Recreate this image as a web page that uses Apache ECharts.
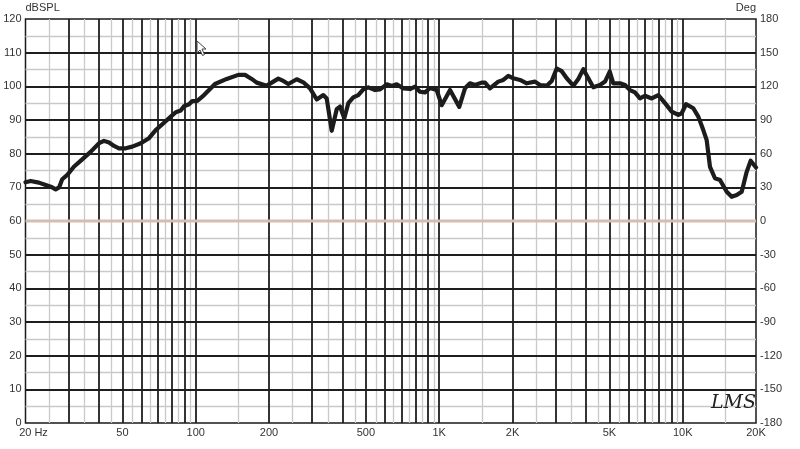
<!DOCTYPE html>
<html><head><meta charset="utf-8">
<script src="https://cdn.jsdelivr.net/npm/echarts@6/dist/echarts.min.js"></script>
<style>html,body{margin:0;padding:0;background:#fff}#c{width:800px;height:449px}</style>
</head><body><div id="c"></div>
<script>
// Frequency response (Hz) and SPL (dB)
const freqs = [20,21.0,22.7,24.2,25.4,26.6,27.5,28.3,29.7,31.6,34.2,37.1,40.1,42.0,44.1,46.2,48.4,51.6,54.9,59.5,64.3,68.5,74.1,79.0,82.8,86.8,89.5,93.9,96.8,101.5,108.2,
  120,134.1,149.6,159.4,169.8,178,195.7,205.2,218.4,229,240.1,260,276.7,294.8,314.1,334.2,345.2,361.9,379.4,391.4,407.6,423.4,443.8,465.4,487.8,511.5,545.1,571.5,608.8,638.5,669.1,712.2,758.9,795.7,834,874.6,916.8,976.8,
  1024,1108,1209,1276,1338,1403,1494,1542,1616,1748,1834,1922,2015,2148,2288,2475,2594,2765,2898,3038,3186,3340,3556,3727,3908,4096,4294,4574,4798,5016,5188,5528,5794,6074,6368,6676,6998,7460,7940,8460,9014,9594,9908,
  10320,11054,11588,12150,12546,12944,13570,14228,15162,15896,16664,17472,18316,19020,20000];
const spl = [71.5,71.9,71.4,70.7,70.2,69.4,70.0,72.4,73.7,76.1,78.3,80.6,83.1,83.8,83.3,82.3,81.6,81.6,82.1,83.1,84.6,87.0,89.2,91.0,92.3,92.8,94.1,94.7,95.6,95.7,97.4,
  100.7,102.2,103.4,103.4,102.2,101.1,100.2,101.1,102.3,101.6,100.7,102.1,101.2,99.4,96.1,97.4,96.4,86.8,93.2,94.0,90.5,95.0,96.7,97.4,99.1,99.7,98.9,99.1,100.6,100.1,100.6,99.4,99.2,99.9,98.4,98.2,99.5,98.9,
  94.4,98.9,93.9,99.4,100.9,100.4,101.1,101.1,99.4,101.4,101.9,103.1,102.4,101.9,100.9,101.4,100.4,100.2,101.6,105.3,104.5,102.4,100.2,102.2,105.1,102.4,99.7,100.4,101.4,104.4,100.9,100.9,100.4,98.9,98.2,96.4,97.2,96.4,97.4,95.0,92.5,91.5,92.0,
  94.7,93.5,91.0,87.0,84.0,76.1,72.7,72.2,68.7,67.2,67.7,68.7,74.6,77.9,75.9];
// Phase trace (deg)
const phaseFreqs = [20, 20000];
const phase = [0, 0];
// Grid / tick definitions
const darkX = [30,40,50,60,70,80,90,100,200,300,400,500,600,700,800,900,1000,2000,3000,4000,5000,6000,7000,8000,9000,10000];
const lightX = [25,35,45,55,65,75,85,95,150,250,350,450,550,650,750,850,950,1500,2500,3500,4500,5500,6500,7500,8500,9500,15000];
const darkY = [10,20,30,40,50,60,70,80,90,100,110];
const lightY = [5,15,25,35,45,55,65,75,85,95,105,115];
const xTickValues = [20,50,100,200,500,1000,2000,5000,10000,20000];
const xTickNames = ['20 Hz','50','100','200','500','1K','2K','5K','10K','20K'];

const chart = echarts.init(document.getElementById('c'), null, {renderer:'canvas'});
const lblFont = {fontFamily:'Liberation Sans, Arial, sans-serif', fontSize:11, color:'#333'};
const lightLines = lightX.map(v=>({xAxis:v})).concat(lightY.map(v=>({yAxis:v})));
const darkLines = darkX.map(v=>({xAxis:v})).concat(darkY.map(v=>({yAxis:v})));
const tickLines = xTickValues.map((v,i)=>{
  const o = {xAxis:v, label:{formatter:xTickNames[i]}};
  if (i===0) o.label.offset = [8,0];
  return o;
});
chart.setOption({
  animation:false,
  backgroundColor:'#fff',
  grid:{left:25.5, right:44, top:19, bottom:26, show:true, borderColor:'#1a1a1a', borderWidth:1.5, backgroundColor:'transparent'},
  xAxis:{type:'log', logBase:10, min:20, max:20000, axisLine:{show:false}, axisTick:{show:false}, axisLabel:{show:false}, splitLine:{show:false}},
  yAxis:[
    {type:'value', min:0, max:120, interval:10, name:'dBSPL', nameLocation:'end', nameGap:4,
     nameTextStyle:Object.assign({align:'left', verticalAlign:'bottom'}, lblFont),
     axisLine:{show:false}, axisTick:{show:false}, splitLine:{show:false},
     axisLabel:Object.assign({margin:4}, lblFont)},
    {type:'value', min:-180, max:180, interval:30, position:'right', name:'Deg', nameLocation:'end', nameGap:4,
     nameTextStyle:Object.assign({align:'right', verticalAlign:'bottom'}, lblFont),
     axisLine:{show:false}, axisTick:{show:false}, splitLine:{show:false},
     axisLabel:Object.assign({margin:4}, lblFont)}
  ],
  series:[
    {type:'line', data:[], z:1, silent:true,
     markLine:{z:1, silent:true, symbol:'none', animation:false, label:{show:false},
       lineStyle:{color:'#c9c9c9', width:1.3, type:'solid'}, data:lightLines}},
    {type:'line', data:[], z:2, silent:true,
     markLine:{z:2, silent:true, symbol:'none', animation:false, label:{show:false},
       lineStyle:{color:'#1e1e1e', width:1.8, type:'solid'}, data:darkLines}},
    {type:'line', data:[], z:2, silent:true,
     markLine:{z:2, silent:true, symbol:'none', animation:false,
       label:Object.assign({show:true, position:'start', distance:4}, lblFont),
       lineStyle:{color:'rgba(0,0,0,0)', width:0}, data:tickLines}},
    {type:'line', yAxisIndex:1, data:phaseFreqs.map((f,i)=>[f,phase[i]]), showSymbol:false, z:4,
     lineStyle:{color:'#d6bdb2', width:3.2}},
    {type:'line', data:freqs.map((f,i)=>[f,spl[i]]), showSymbol:false, z:6,
     lineStyle:{color:'#1c1c1c', width:4.2, join:'round', cap:'round'}}
  ],
  graphic:[
    {type:'text', left:711, top:394, z:10, style:{text:'LMS', font:'italic 19px "DejaVu Serif", serif', fill:'#222'}},
    {type:'polygon', z:10, shape:{points:[[197,41],[197,53],[200,50],[202.5,55.5],[204.5,54.5],[202,49],[206,49]]},
     style:{fill:'#fff', stroke:'#444', lineWidth:1}}
  ]
});
</script></body></html>
